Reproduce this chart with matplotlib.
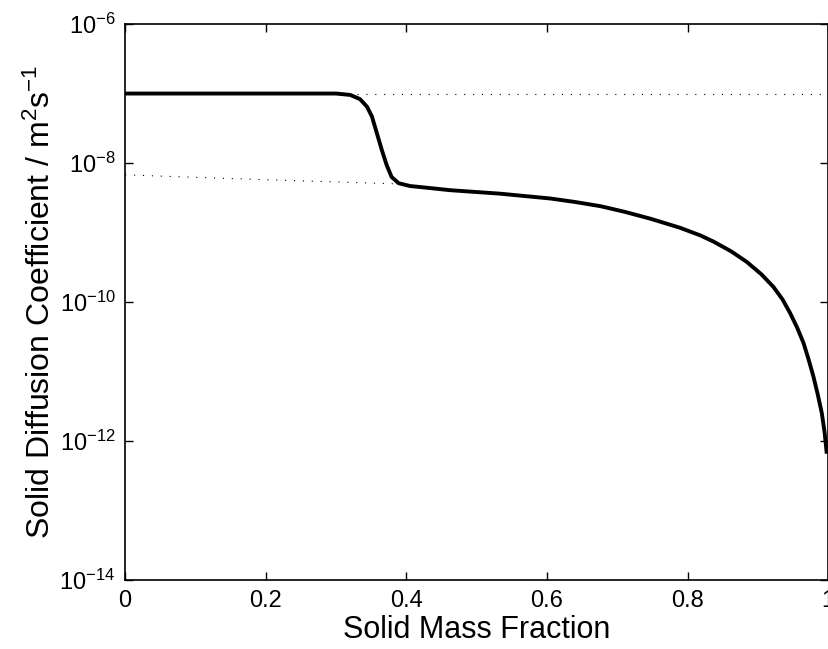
import matplotlib
matplotlib.use("Agg")
import matplotlib.pyplot as plt
import numpy as np
from matplotlib import rcParams

rcParams["font.family"] = ["Liberation Sans", "DejaVu Sans"]
rcParams["mathtext.fontset"] = "custom"
rcParams["mathtext.rm"] = "Liberation Sans"
rcParams["mathtext.it"] = "Liberation Sans"
rcParams["mathtext.default"] = "regular"

# ── data (x = solid mass fraction, log10 of D) ──────────────────────────────
frac = [0.0, 0.20, 0.30, 0.320, 0.334, 0.344, 0.351, 0.358, 0.365, 0.372,
        0.379, 0.389, 0.405, 0.434, 0.462, 0.533, 0.605, 0.640, 0.676,
        0.710, 0.747, 0.789, 0.818, 0.837, 0.862, 0.884, 0.905, 0.922,
        0.935, 0.946, 0.956, 0.965, 0.972, 0.979, 0.985, 0.991, 0.995, 0.998]
log_d = [-7.0, -7.0, -7.0, -7.02, -7.08, -7.19, -7.33, -7.57, -7.81, -8.03,
         -8.20, -8.29, -8.33, -8.36, -8.39, -8.44, -8.51, -8.56, -8.62,
         -8.70, -8.80, -8.93, -9.04, -9.13, -9.27, -9.42, -9.60, -9.78,
         -9.96, -10.16, -10.37, -10.59, -10.82, -11.07, -11.32, -11.60,
         -11.88, -12.18]

upper_frac = [0.33, 1.0]
upper_log = [-7.0, -7.0]

lower_frac = [0.0, 0.2, 0.39]
lower_log = [-8.17, -8.24, -8.30]

fig = plt.figure(figsize=(8.29, 6.49), dpi=100)
ax = fig.add_axes([0.151, 0.106, 0.848, 0.857])

ax.plot(upper_frac, 10 ** np.array(upper_log), color="black", lw=0.8,
        linestyle=(0, (1, 7)))
ax.plot(lower_frac, 10 ** np.array(lower_log), color="black", lw=0.8,
        linestyle=(0, (1, 7)))
ax.plot(frac, 10 ** np.array(log_d), color="black", lw=2.8,
        solid_joinstyle="round", solid_capstyle="butt")

ax.set_yscale("log")
ax.set_xlim(0, 1)
ax.set_ylim(1e-14, 1e-6)
ax.set_yticks([1e-14, 1e-12, 1e-10, 1e-8, 1e-6])
ax.minorticks_off()
ax.set_xticks([0, 0.2, 0.4, 0.6, 0.8, 1])
ax.set_xticklabels(["0", "0.2", "0.4", "0.6", "0.8", "1"])

ax.tick_params(direction="in", top=True, right=True, length=6, width=1,
               labelsize=17, pad=7)
for s in ax.spines.values():
    s.set_linewidth(1.2)

ax.set_xlabel("Solid Mass Fraction", fontsize=22, labelpad=2)
ax.set_ylabel("Solid Diffusion Coefficient / m$^2$s$^{-1}$", fontsize=23,
              labelpad=2)

fig.savefig("out.png", dpi=100, facecolor="white")
